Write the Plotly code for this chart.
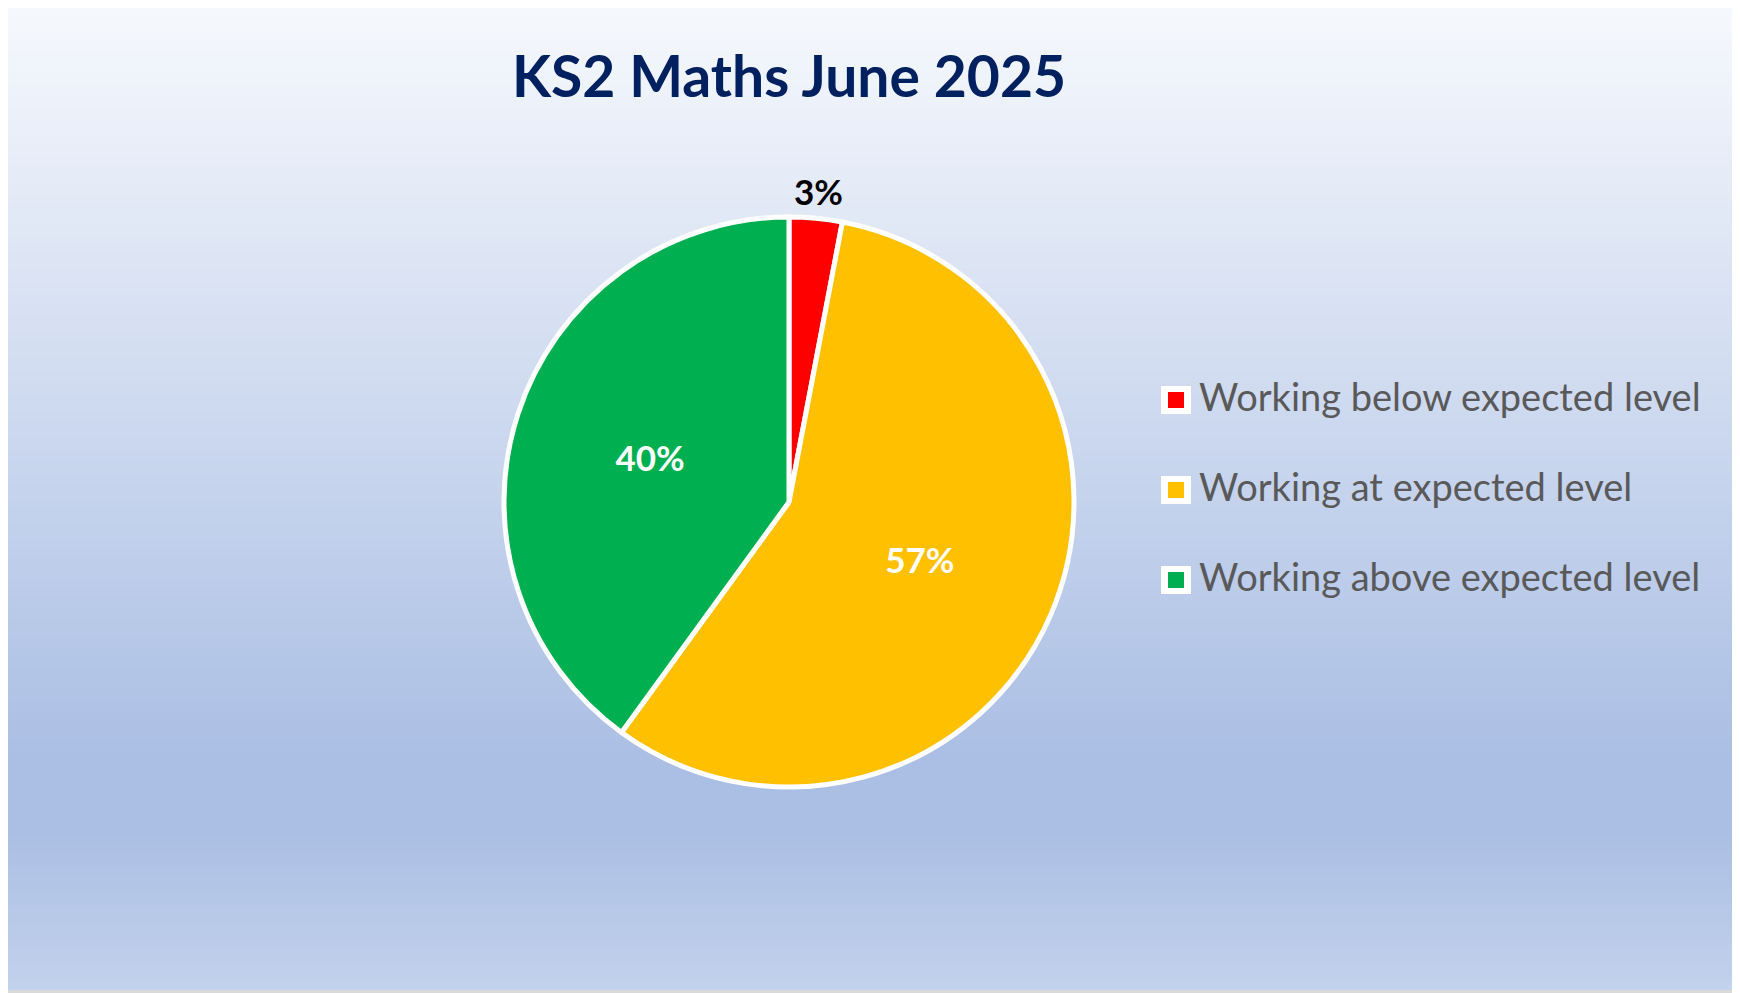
import math
import plotly.graph_objects as go

# --- data ---
categories = [
    "Working below expected level",
    "Working at expected level",
    "Working above expected level",
]
shares = [3, 57, 40]
colors = ["#FF0000", "#FFC000", "#00B050"]
label_colors = ["#000000", "#FFFFFF", "#FFFFFF"]
label_positions = ["none", "inside", "inside"]  # small slice labelled separately below

# the page body has an 8px margin, so size the figure to fit the window
OFF = 8
W, H = 1740 - OFF, 993 - OFF


def px(x):
    # screen x -> paper x
    return (x - OFF) / W


def py(y):
    # screen y -> paper y
    return 1 - (y - OFF) / H


# pie geometry on screen
CX, CY, R = 789, 502, 285

# background gradient stops (fraction of screen height from top, rgb)
bg_stops = [
    (0.00, (247, 249, 253)),
    (0.76, (171, 191, 228)),
    (0.84, (171, 191, 228)),
    (1.00, (195, 210, 236)),
]


def bg_color(t):
    for (t0, c0), (t1, c1) in zip(bg_stops[:-1], bg_stops[1:]):
        if t0 <= t <= t1:
            f = 0 if t1 == t0 else (t - t0) / (t1 - t0)
            r, g, b = (round(a + (b_ - a) * f) for a, b_ in zip(c0, c1))
            return f"rgb({r},{g},{b})"
    return "rgb(195,210,236)"


fig = go.Figure()

fig.add_trace(
    go.Pie(
        labels=categories,
        values=shares,
        sort=False,
        direction="clockwise",
        rotation=0,
        marker=dict(colors=colors, line=dict(color="#FFFFFF", width=5)),
        texttemplate="%{percent:.0%}",
        textposition=label_positions,
        insidetextorientation="horizontal",
        textfont=dict(family="Lato", size=35, color=label_colors, weight="bold"),
        domain=dict(x=[px(CX - R), px(CX + R)], y=[py(CY + R), py(CY - R)]),
        showlegend=False,
        hoverinfo="label+percent",
    )
)

shapes = []
# vertical gradient background in strips
n = 200
for i in range(n):
    y_top = OFF + i * (993 - OFF) / n
    y_bot = OFF + (i + 1) * (993 - OFF) / n
    shapes.append(dict(
        type="rect", xref="paper", yref="paper",
        x0=0, x1=1, y0=py(y_bot), y1=py(y_top) + 0.001,
        fillcolor=bg_color((y_top + y_bot) / 2 / 993), line=dict(width=0), layer="below",
    ))
# thin grey frame on the right and bottom edges
shapes.append(dict(
    type="rect", xref="paper", yref="paper",
    x0=-0.01, x1=1 - 1.5 / W, y0=1.5 / H, y1=1.01,
    line=dict(color="#D9D9D9", width=3), fillcolor="rgba(0,0,0,0)", layer="above",
))

annotations = []

# outside label for the small slice, just beyond the rim at its mid angle
total = sum(shares)
mid = math.pi * shares[0] / total
dist = R + 27
annotations.append(dict(
    text=f"<b>{round(100 * shares[0] / total)}%</b>", xref="paper", yref="paper",
    x=px(CX + dist * math.sin(mid)), y=py(CY - dist * math.cos(mid)),
    xanchor="center", yanchor="middle", showarrow=False,
    font=dict(family="Lato", size=35, color=label_colors[0]),
))

# hand-drawn legend: white box with coloured square, grey text
legend_y = [400, 490, 580]
for name, col, ly in zip(categories, colors, legend_y):
    shapes.append(dict(
        type="rect", xref="paper", yref="paper",
        x0=px(1161), x1=px(1191), y0=py(ly + 14), y1=py(ly - 14),
        fillcolor="#FFFFFF", line=dict(width=0), layer="above",
    ))
    shapes.append(dict(
        type="rect", xref="paper", yref="paper",
        x0=px(1168), x1=px(1184), y0=py(ly + 8), y1=py(ly - 8),
        fillcolor=col, line=dict(width=0), layer="above",
    ))
    annotations.append(dict(
        text=name, xref="paper", yref="paper",
        x=px(1197), y=py(ly - 4), xanchor="left", yanchor="middle",
        showarrow=False, font=dict(family="Lato", size=38, color="#595959"),
    ))

fig.update_layout(
    width=W,
    height=H,
    margin=dict(l=0, r=0, t=0, b=0),
    paper_bgcolor="#C8D5EE",
    plot_bgcolor="rgba(0,0,0,0)",
    title=dict(
        text="<b>KS2 Maths June 2025</b>",
        x=px(789), xanchor="center",
        y=py(77), yanchor="middle",
        font=dict(family="Lato", size=57, color="#002060"),
    ),
    shapes=shapes,
    annotations=annotations,
)

fig.write_html("out.html")
